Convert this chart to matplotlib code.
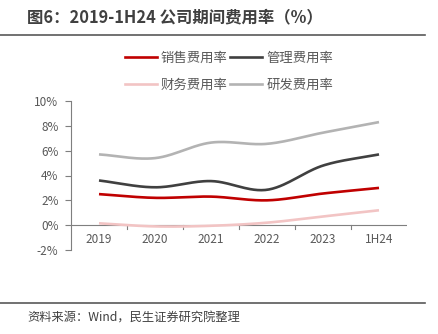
import matplotlib
matplotlib.use("Agg")
import matplotlib.pyplot as plt
import numpy as np
from matplotlib.lines import Line2D

plt.rcParams["font.family"] = ["Noto Sans CJK SC", "DejaVu Sans"]

CATEGORIES = ["2019", "2020", "2021", "2022", "2023", "1H24"]
SALES = [2.5, 2.2, 2.3, 2.0, 2.55, 3.0]        # 销售费用率
ADMIN = [3.6, 3.05, 3.55, 2.85, 4.8, 5.7]      # 管理费用率
FINANCE = [0.15, -0.1, -0.05, 0.2, 0.7, 1.2]   # 财务费用率
RND = [5.7, 5.4, 6.65, 6.55, 7.45, 8.3]        # 研发费用率

SERIES = [
    ("销售费用率", SALES, "#C00000"),
    ("管理费用率", ADMIN, "#404040"),
    ("财务费用率", FINANCE, "#F2C4C4"),
    ("研发费用率", RND, "#B3B3B3"),
]
YTICKS = [-2, 0, 2, 4, 6, 8, 10]


def smooth(x, y, n=30):
    """Catmull-Rom style smoothing, like Excel's smoothed line."""
    x = np.asarray(x, float); y = np.asarray(y, float)
    m = np.zeros_like(y)
    m[1:-1] = (y[2:] - y[:-2]) / (x[2:] - x[:-2])
    m[0] = (y[1] - y[0]) / (x[1] - x[0])
    m[-1] = (y[-1] - y[-2]) / (x[-1] - x[-2])
    xs, ys = [], []
    for i in range(len(x) - 1):
        t = np.linspace(0, 1, n, endpoint=(i == len(x) - 2))
        h = x[i + 1] - x[i]
        h00 = 2 * t**3 - 3 * t**2 + 1
        h10 = t**3 - 2 * t**2 + t
        h01 = -2 * t**3 + 3 * t**2
        h11 = t**3 - t**2
        xs.append(x[i] + t * h)
        ys.append(h00 * y[i] + h10 * h * m[i] + h01 * y[i + 1] + h11 * h * m[i + 1])
    return np.concatenate(xs), np.concatenate(ys)


fig = plt.figure(figsize=(4.38, 3.34), dpi=100)
ax = fig.add_axes([71 / 438, 1 - 250 / 334, (407 - 71) / 438, (250 - 101) / 334])

xpos = np.arange(len(CATEGORIES))
for label, vals, color in SERIES:
    sx, sy = smooth(xpos, vals)
    ax.plot(sx, sy, color=color, lw=1.9, solid_capstyle="butt", zorder=3)

ax.set_xlim(-0.5, len(CATEGORIES) - 0.5)
ax.set_ylim(-2, 10)
ax.set_yticks(YTICKS)
ax.set_yticklabels([f"{v}%" for v in YTICKS], fontsize=8.5, color="#595959")

for s in ("top", "right", "bottom"):
    ax.spines[s].set_visible(False)
ax.spines["left"].set_color("#7F7F7F")
ax.spines["left"].set_linewidth(0.8)
ax.tick_params(axis="y", length=4, width=0.8, color="#7F7F7F", pad=5)

# zero line acts as the category axis
ax.axhline(0, color="#7F7F7F", lw=0.8, zorder=2)
ax.set_xticks([])
for b in np.arange(0.5, len(CATEGORIES) - 0.5, 1.0):
    ax.plot([b, b], [0, -0.3], color="#7F7F7F", lw=0.8, clip_on=False)
for i, c in enumerate(CATEGORIES):
    ax.text(i, -0.6, c, ha="center", va="top", fontsize=8.5, color="#595959")

# legend filled column-wise: put items so rows read 销售/管理, 财务/研发
order = [0, 2, 1, 3]
handles = [Line2D([0], [0], color=SERIES[i][2], lw=1.9) for i in order]
labels = [SERIES[i][0] for i in order]
leg = fig.legend(handles, labels, ncol=2, loc="center", bbox_to_anchor=(229 / 438, 1 - 71 / 334),
                 frameon=False, fontsize=9.6, handlelength=2.4, handletextpad=0.3,
                 columnspacing=0.2, labelspacing=1.0)
for t in leg.get_texts():
    t.set_color("#595959")

fig.text(27 / 438, 1 - 17 / 334, "图6：2019-1H24 公司期间费用率（%）", fontsize=11.8,
         fontweight="bold", color="#404040", ha="left", va="center")
fig.add_artist(Line2D([0, 425 / 438], [1 - 35 / 334] * 2, color="#595959", lw=1.2))
fig.add_artist(Line2D([0, 425 / 438], [1 - 303 / 334] * 2, color="#595959", lw=1.2))
fig.text(27 / 438, 1 - 318 / 334, "资料来源：Wind，民生证券研究院整理", fontsize=8.8,
         color="#404040", ha="left", va="center")

fig.savefig("out.png", dpi=100)
